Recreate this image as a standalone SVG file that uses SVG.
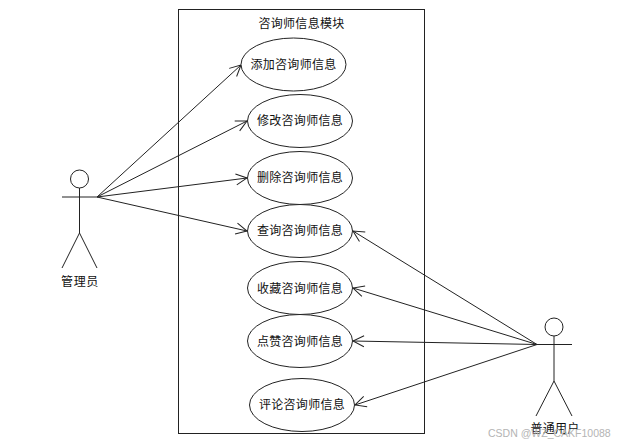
<svg xmlns="http://www.w3.org/2000/svg" width="620" height="445" viewBox="0 0 620 445">
<defs>
<marker id="open" markerUnits="userSpaceOnUse" markerWidth="16" markerHeight="16" refX="12" refY="8" orient="auto">
<path d="M1 2.500L12 8L1 13.500" fill="none" stroke="#222" stroke-width="1"/>
</marker>
</defs>
<style>
.s{fill:none;stroke:#222;stroke-width:1}
.e{fill:#fff;stroke:#222;stroke-width:1}
text{font-family:"Noto Sans CJK SC","Liberation Sans",sans-serif;font-size:12px;fill:#111;text-anchor:middle;letter-spacing:.3px}
.c{stroke:#222;stroke-width:1;fill:none;marker-end:url(#open)}
text.w{font-family:"Liberation Sans",sans-serif;font-size:10.500px;fill:#b4b4b4;text-anchor:start;letter-spacing:0}
</style>
<rect width="620" height="445" fill="#fff"/>
<g id="module">
<rect class="s" x="178.500" y="9.500" width="246" height="424"/>
<text x="301.500" y="28">咨询师信息模块</text>
</g>
<g id="connectors">
<path class="c" d="M97 197L241 65"/>
<path class="c" d="M97 197L247 121"/>
<path class="c" d="M97 197L247 178"/>
<path class="c" d="M97 197L247 231"/>
<path class="c" d="M537 344.500L353 231"/>
<path class="c" d="M537 344.500L353 288"/>
<path class="c" d="M537 344.500L353 341"/>
<path class="c" d="M537 344.500L355 405"/>
</g>
<g id="uc1"><ellipse class="e" cx="293.500" cy="64.500" rx="52.500" ry="26.500"/><text x="293.500" y="69">添加咨询师信息</text></g>
<g id="uc2"><ellipse class="e" cx="300" cy="121" rx="52.500" ry="26.500"/><text x="300" y="125">修改咨询师信息</text></g>
<g id="uc3"><ellipse class="e" cx="300" cy="178" rx="52.500" ry="26.500"/><text x="300" y="182">删除咨询师信息</text></g>
<g id="uc4"><ellipse class="e" cx="300" cy="231" rx="52.500" ry="26.500"/><text x="300" y="235">查询咨询师信息</text></g>
<g id="uc5"><ellipse class="e" cx="300" cy="288" rx="52.500" ry="26.500"/><text x="300" y="293">收藏咨询师信息</text></g>
<g id="uc6"><ellipse class="e" cx="300" cy="341" rx="52.500" ry="26.500"/><text x="300" y="346">点赞咨询师信息</text></g>
<g id="uc7"><ellipse class="e" cx="302" cy="405" rx="52.500" ry="26.500"/><text x="302" y="409">评论咨询师信息</text></g>
<g id="actor-admin">
<circle class="s" cx="79.500" cy="179" r="9"/>
<path class="s" d="M62 197H97M79.500 188V233L62 268M79.500 233L97 268"/>
<text x="80" y="286" style="letter-spacing:.6px">管理员</text>
</g>
<g id="actor-user">
<circle class="s" cx="554" cy="327" r="9"/>
<path class="s" d="M537 344.500H572M554 336V381L536 416M554 381L572 416"/>
<text x="555" y="433">普通用户</text>
</g>
<text class="w" x="488" y="437">CSDN @WZ_CAKF10088</text>
</svg>
